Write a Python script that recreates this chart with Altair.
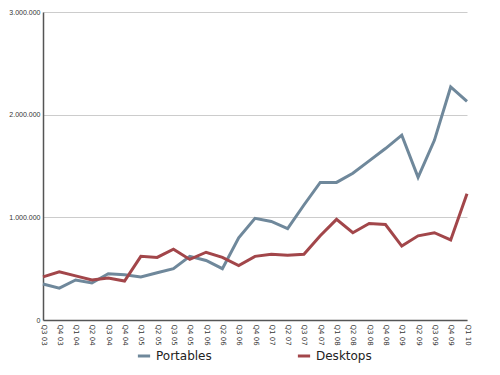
import altair as alt
import pandas as pd

quarters = ["Q3 03", "Q4 03", "Q1 04", "Q2 04", "Q3 04", "Q4 04", "Q1 05", "Q2 05",
            "Q3 05", "Q4 05", "Q1 06", "Q2 06", "Q3 06", "Q4 06", "Q1 07", "Q2 07",
            "Q3 07", "Q4 07", "Q1 08", "Q2 08", "Q3 08", "Q4 08", "Q1 09", "Q2 09",
            "Q3 09", "Q4 09", "Q1 10"]
portables = [350000, 310000, 390000, 360000, 450000, 440000, 420000, 460000,
             500000, 620000, 580000, 500000, 800000, 990000, 960000, 890000,
             1120000, 1340000, 1340000, 1430000, 1550000, 1670000, 1800000, 1390000,
             1750000, 2270000, 2130000]
desktops = [420000, 470000, 430000, 390000, 410000, 380000, 620000, 610000,
            690000, 590000, 660000, 610000, 530000, 620000, 640000, 630000,
            640000, 820000, 980000, 850000, 940000, 930000, 720000, 820000,
            850000, 780000, 1230000]
series = ["Portables", "Desktops"]
colors = ["#6f889b", "#a2464a"]

rows = []
for i, q in enumerate(quarters):
    rows.append({"q": q, "series": "Portables", "value": portables[i]})
    rows.append({"q": q, "series": "Desktops", "value": desktops[i]})
df = pd.DataFrame(rows)

chart = alt.Chart(df).mark_line(strokeWidth=3).encode(
    x=alt.X("q:N", sort=quarters, scale=alt.Scale(type="point", padding=0),
            axis=alt.Axis(title=None, labelAngle=90, labelFontSize=7, labelFont="DejaVu Sans",
                          labelColor="#333", ticks=False, domainColor="#555", domainWidth=1.5,
                          labelPadding=4, grid=False)),
    y=alt.Y("value:Q", scale=alt.Scale(domain=[0, 3000000]),
            axis=alt.Axis(title=None, values=[0, 1000000, 2000000, 3000000],
                          labelExpr="replace(format(datum.value, ','), /,/g, '.')",
                          labelFontSize=7, labelFont="Liberation Sans", labelColor="#333",
                          ticks=False, domainColor="#555", domainWidth=1.5,
                          gridColor="#cccccc", labelPadding=3)),
    color=alt.Color("series:N", sort=series,
                    scale=alt.Scale(domain=series, range=colors),
                    legend=alt.Legend(title=None, orient="none", legendX=93, legendY=336,
                                      direction="horizontal", symbolType="stroke",
                                      symbolStrokeWidth=3, symbolSize=150,
                                      labelFontSize=12, labelFont="DejaVu Sans",
                                      labelColor="#222", columnPadding=79)),
).properties(
    width=424, height=308,
    autosize=alt.AutoSizeParams(type="none"),
    padding={"left": 35, "top": 4, "right": 25, "bottom": 55},
).configure_view(stroke=None)

chart.save("out.html", embed_options={"renderer": "svg", "actions": False})
